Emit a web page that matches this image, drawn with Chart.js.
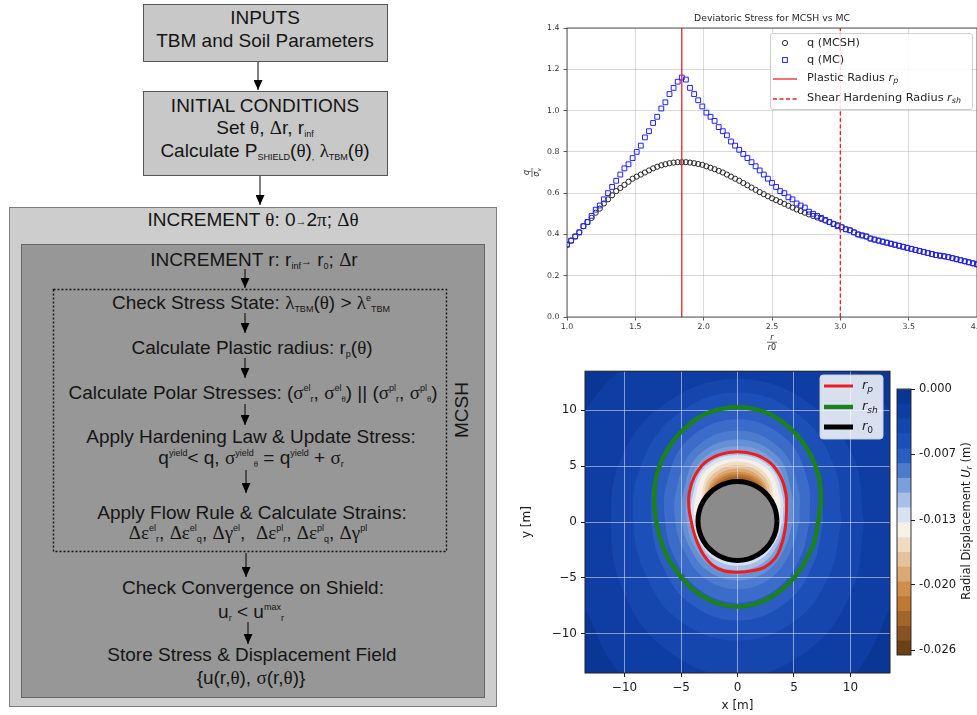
<!DOCTYPE html>
<html>
<head>
<meta charset="utf-8">
<title>MCSH flowchart and results</title>
<script src="https://cdn.jsdelivr.net/npm/chart.js@4.4.1/dist/chart.umd.min.js"></script>
<style>
  html, body { margin: 0; padding: 0; background: #fff; width: 977px; height: 715px; overflow: hidden; position: relative; }
  canvas { position: absolute; }
  .t { position: absolute; width: 500px; text-align: center; font-family: "Liberation Sans", Arial, sans-serif;
       font-size: 19px; line-height: 22px; color: #151515; white-space: nowrap; }
  .g { font-family: "Liberation Serif", "Times New Roman", serif; }
  .sb { font-size: 9px; position: relative; top: 3px; }
  .sp { font-size: 9px; position: relative; top: -8px; }
  .ar { font-size: 11px; position: relative; top: -1px; }
</style>
</head>
<body>

<!-- Flowchart -->
<svg width="520" height="715" style="position:absolute;left:0;top:0">
  <defs>
    <marker id="ah" markerWidth="10" markerHeight="9" refX="10" refY="4.5" orient="auto" markerUnits="userSpaceOnUse">
      <path d="M0,0 L10,4.5 L0,9 z" fill="#000"/>
    </marker>
  </defs>
  <rect x="143.5" y="4.5" width="244" height="57" fill="#c8c8c8" stroke="#555"/>
  <rect x="143.5" y="91.5" width="244" height="84" fill="#c8c8c8" stroke="#555"/>
  <rect x="9.5" y="207.5" width="487" height="499" fill="#cdcdcd" stroke="#7d7d7d"/>
  <rect x="21.5" y="244.5" width="463" height="453" fill="#979797" stroke="#666"/>
  <rect x="53.5" y="289.5" width="393" height="262" fill="none" stroke="#111" stroke-width="1.4" stroke-dasharray="2,2"/>
  <g stroke="#000" stroke-width="1" marker-end="url(#ah)">
    <line x1="258" y1="62" x2="258" y2="90"/>
    <line x1="260" y1="176" x2="260" y2="205"/>
    <line x1="245" y1="269" x2="245" y2="288"/>
    <line x1="245" y1="313" x2="245" y2="333"/>
    <line x1="245" y1="358" x2="245" y2="378"/>
    <line x1="245" y1="404" x2="245" y2="425"/>
    <line x1="246" y1="470" x2="246" y2="493"/>
    <line x1="246" y1="553" x2="246" y2="577"/>
    <line x1="248" y1="622" x2="248" y2="644"/>
  </g>
  <text x="0" y="0" transform="translate(468,410) rotate(-90)" text-anchor="middle"
        font-family="Liberation Sans, Arial, sans-serif" font-size="19" fill="#151515">MCSH</text>
</svg>

<div class="t" style="left:15px;top:7px">INPUTS</div>
<div class="t" style="left:15px;top:30px">TBM and Soil Parameters</div>
<div class="t" style="left:15px;top:95px">INITIAL CONDITIONS</div>
<div class="t" style="left:15px;top:117px">Set <span class="g">θ</span>, <span class="g">Δ</span>r, r<span class="sb">inf</span></div>
<div class="t" style="left:15px;top:140px">Calculate P<span class="sb">SHIELD</span>(<span class="g">θ</span>)<span class="sb">,</span> <span class="g">λ</span><span class="sb">TBM</span>(<span class="g">θ</span>)</div>
<div class="t" style="left:3px;top:209px">INCREMENT <span class="g">θ</span>: 0<span class="ar">→</span>2<span class="g">π</span>; <span class="g">Δθ</span></div>
<div class="t" style="left:4px;top:249px">INCREMENT r: r<span class="sb">inf</span><span class="ar">→</span> r<span class="sb">0</span>; <span class="g">Δ</span>r</div>
<div class="t" style="left:1px;top:292px">Check Stress State: <span class="g">λ</span><span class="sb">TBM</span>(<span class="g">θ</span>) &gt; <span class="g">λ</span><span class="sp">e</span><span class="sb">TBM</span></div>
<div class="t" style="left:2px;top:337px">Calculate Plastic radius: r<span class="sb">p</span>(<span class="g">θ</span>)</div>
<div class="t" style="left:3px;top:382px">Calculate Polar Stresses: (<span class="g">σ</span><span class="sp">el</span><span class="sb">r</span>, <span class="g">σ</span><span class="sp">el</span><span class="sb g">θ</span>) || (<span class="g">σ</span><span class="sp">pl</span><span class="sb">r</span>, <span class="g">σ</span><span class="sp">pl</span><span class="sb g">θ</span>)</div>
<div class="t" style="left:1px;top:426px">Apply Hardening Law &amp; Update Stress:</div>
<div class="t" style="left:1px;top:447px">q<span class="sp">yield</span>&lt; q, <span class="g">σ</span><span class="sp">yield</span><span class="sb g">θ</span> = q<span class="sp">yield</span> + <span class="g">σ</span><span class="sb">r</span></div>
<div class="t" style="left:2px;top:502px">Apply Flow Rule &amp; Calculate Strains:</div>
<div class="t" style="left:-2px;top:522px"><span class="g">Δε</span><span class="sp">el</span><span class="sb">r</span>, <span class="g">Δε</span><span class="sp">el</span><span class="sb">q</span>, <span class="g">Δγ</span><span class="sp">el</span>, &nbsp;<span class="g">Δε</span><span class="sp">pl</span><span class="sb">r</span>, <span class="g">Δε</span><span class="sp">pl</span><span class="sb">q</span>, <span class="g">Δγ</span><span class="sp">pl</span></div>
<div class="t" style="left:3px;top:577px">Check Convergence on Shield:</div>
<div class="t" style="left:1px;top:601px">u<span class="sb">r</span> &lt; u<span class="sp">max</span><span class="sb">r</span></div>
<div class="t" style="left:2px;top:644px">Store Stress &amp; Displacement Field</div>
<div class="t" style="left:1px;top:667px">{u(r,<span class="g">θ</span>), <span class="g">σ</span>(r,<span class="g">θ</span>)}</div>

<canvas id="stressChart" width="490" height="360" style="left:520px;top:0px"></canvas>
<canvas id="fieldChart" width="380" height="355" style="left:520px;top:360px"></canvas>
<canvas id="curveChart" width="380" height="355" style="left:520px;top:360px"></canvas>
<canvas id="cbarChart" width="97" height="355" style="left:880px;top:360px"></canvas>

<script>
// ---- Deviatoric stress data (r / r0 vs q / sigma_v) ----
const rRatio = [1.00, 1.03, 1.06, 1.09, 1.12, 1.15, 1.18, 1.21, 1.24, 1.27, 1.30, 1.33, 1.36, 1.39, 1.42,
  1.45, 1.48, 1.51, 1.54, 1.57, 1.60, 1.63, 1.66, 1.69, 1.72, 1.75, 1.78, 1.81, 1.84, 1.87, 1.90, 1.93,
  1.96, 1.99, 2.02, 2.05, 2.08, 2.11, 2.14, 2.17, 2.20, 2.23, 2.26, 2.29, 2.32, 2.35, 2.38, 2.41, 2.44,
  2.47, 2.50, 2.53, 2.56, 2.59, 2.62, 2.65, 2.68, 2.71, 2.74, 2.77, 2.80, 2.83, 2.86, 2.89, 2.92, 2.95,
  2.98, 3.01, 3.04, 3.07, 3.10, 3.13, 3.16, 3.19, 3.22, 3.25, 3.28, 3.31, 3.34, 3.37, 3.40, 3.43, 3.46,
  3.49, 3.52, 3.55, 3.58, 3.61, 3.64, 3.67, 3.70, 3.73, 3.76, 3.79, 3.82, 3.85, 3.88, 3.91, 3.94, 3.97, 4.00];

const qMCSH = [0.35, 0.37, 0.39, 0.41, 0.44, 0.46, 0.48, 0.505, 0.525, 0.55, 0.57, 0.59, 0.61, 0.625, 0.64,
  0.655, 0.67, 0.68, 0.69, 0.70, 0.71, 0.72, 0.728, 0.735, 0.74, 0.745, 0.748, 0.75, 0.75, 0.75, 0.748, 0.745,
  0.741, 0.737, 0.73, 0.723, 0.716, 0.708, 0.70, 0.69, 0.68, 0.67, 0.66, 0.649, 0.638, 0.627, 0.616, 0.605, 0.595,
  0.585, 0.575, 0.566, 0.557, 0.548, 0.539, 0.53, 0.521, 0.513, 0.505, 0.497, 0.49, 0.482, 0.475, 0.467, 0.46, 0.452,
  0.445, 0.435, 0.425, 0.42, 0.41, 0.40, 0.395, 0.39, 0.38, 0.375, 0.37, 0.365, 0.36, 0.355, 0.35, 0.345, 0.34,
  0.335, 0.33, 0.325, 0.32, 0.315, 0.31, 0.305, 0.30, 0.297, 0.294, 0.29, 0.285, 0.28, 0.275, 0.27, 0.265, 0.26, 0.255];

const qMC = [0.35, 0.37, 0.39, 0.41, 0.44, 0.46, 0.49, 0.52, 0.54, 0.57, 0.60, 0.63, 0.66, 0.69, 0.72,
  0.74, 0.77, 0.80, 0.83, 0.87, 0.90, 0.94, 0.97, 1.01, 1.04, 1.08, 1.11, 1.14, 1.16, 1.15, 1.11, 1.08,
  1.05, 1.02, 0.99, 0.97, 0.95, 0.92, 0.90, 0.88, 0.85, 0.83, 0.81, 0.79, 0.77, 0.75, 0.73, 0.71, 0.69,
  0.67, 0.65, 0.63, 0.61, 0.60, 0.58, 0.57, 0.55, 0.54, 0.53, 0.51, 0.50, 0.49, 0.48, 0.47, 0.46, 0.45,
  0.44, 0.435, 0.425, 0.42, 0.41, 0.40, 0.395, 0.39, 0.38, 0.375, 0.37, 0.365, 0.36, 0.355, 0.35, 0.345, 0.34,
  0.335, 0.33, 0.325, 0.32, 0.315, 0.31, 0.305, 0.30, 0.297, 0.294, 0.29, 0.285, 0.28, 0.275, 0.27, 0.265, 0.26, 0.255];

const plasticRadius = 1.84;
const shearHardeningRadius = 3.0;
const rTicks = [1.0, 1.5, 2.0, 2.5, 3.0, 3.5, 4.0];
const qTicks = [0.0, 0.2, 0.4, 0.6, 0.8, 1.0, 1.2, 1.4];

// ---- Radial displacement field around the tunnel (polar radii in m) ----
const bandAngles = [0, 30, 60, 90, 120, 150, 180, 210, 240, 270, 300, 330];
const fieldBackground = '#0a3796';
const band1 = [15.0, 16.5, 17.0, 16.0, 17.0, 16.5, 15.0, 15.5, 17.5, 18.0, 17.5, 15.5];
const band2 = [11.2, 11.8, 12.4, 12.8, 12.4, 11.8, 11.2, 11.8, 13.0, 13.8, 13.0, 11.8];
const band3 = [9.2, 9.9, 11.0, 11.6, 11.0, 9.9, 9.2, 9.4, 10.2, 10.6, 10.2, 9.4];
const band4 = [7.6, 8.4, 9.7, 10.3, 9.7, 8.4, 7.6, 7.7, 8.4, 8.8, 8.4, 7.7];
const band5 = [6.4, 7.2, 8.6, 9.2, 8.6, 7.2, 6.4, 6.4, 6.9, 7.2, 6.9, 6.4];
const band6 = [5.5, 6.2, 7.6, 8.2, 7.6, 6.2, 5.5, 5.4, 5.8, 6.0, 5.8, 5.4];
const band7 = [4.9, 5.5, 6.9, 7.4, 6.9, 5.5, 4.9, 4.8, 5.1, 5.2, 5.1, 4.8];
const band8 = [4.5, 5.1, 6.4, 6.8, 6.4, 5.1, 4.5, 4.4, 4.6, 4.7, 4.6, 4.4];
const band9 = [4.2, 4.8, 6.0, 6.4, 6.0, 4.8, 4.2, 4.1, 4.3, 4.3, 4.3, 4.1];
const band10 = [4.0, 4.6, 5.7, 6.0, 5.7, 4.6, 4.0, 3.8, 3.9, 3.9, 3.9, 3.8];
const band11 = [3.7, 4.3, 5.4, 5.7, 5.4, 4.3, 3.7, 3.3, 3.3, 3.3, 3.3, 3.3];
const band12 = [3.0, 3.7, 5.0, 5.4, 5.0, 3.7, 3.0, 3.0, 3.0, 3.0, 3.0, 3.0];
const band13 = [3.0, 3.5, 4.7, 5.1, 4.7, 3.5, 3.0, 3.0, 3.0, 3.0, 3.0, 3.0];
const band14 = [3.0, 3.3, 4.4, 4.8, 4.4, 3.3, 3.0, 3.0, 3.0, 3.0, 3.0, 3.0];
const band15 = [3.0, 3.2, 4.2, 4.5, 4.2, 3.2, 3.0, 3.0, 3.0, 3.0, 3.0, 3.0];
const band16 = [3.0, 3.0, 4.0, 4.3, 4.0, 3.0, 3.0, 3.0, 3.0, 3.0, 3.0, 3.0];
const band17 = [3.0, 3.0, 3.8, 4.1, 3.8, 3.0, 3.0, 3.0, 3.0, 3.0, 3.0, 3.0];
const bandColors = ['#0e3ea3', '#1546ae', '#1c4fb7', '#2a5cc2', '#3c6cc9', '#4d7ccf', '#6690d6', '#7b9edc',
  '#a8bfe8', '#d9e2f3', '#f7f0e6', '#f0dcc4', '#e6c29c', '#dba872', '#cf8f4c', '#be7834', '#a5652a'];

// boundaries: r0 (tunnel), rp (plastic), rsh (shear hardening)
const curveAngles = [0, 15, 30, 45, 60, 75, 90, 105, 120, 135, 150, 165, 180, 195, 210, 225, 240, 255, 270, 285, 300, 315, 330, 345];
const r0Radius = [3.5, 3.5, 3.5, 3.5, 3.5, 3.5, 3.5, 3.5, 3.5, 3.5, 3.5, 3.5, 3.5, 3.5, 3.5, 3.5, 3.5, 3.5, 3.5, 3.5, 3.5, 3.5, 3.5, 3.5];
const rpRadius = [4.3, 4.5, 4.95, 5.45, 5.9, 6.1, 6.15, 6.1, 5.9, 5.45, 4.95, 4.45, 4.1, 4.0, 4.05, 4.25, 4.5, 4.6, 4.55, 4.6, 4.75, 4.7, 4.45, 4.3];
const rshRadius = [7.15, 7.65, 8.25, 8.85, 9.45, 9.95, 10.1, 9.95, 9.45, 8.85, 8.25, 7.65, 7.2, 7.0, 6.98, 7.05, 7.3, 7.5, 7.6, 7.5, 7.3, 7.1, 6.98, 7.05];
const fieldTicks = [-10, -5, 0, 5, 10];

// ---- Colour bar ----
const cbarLevels = [0, -0.00149, -0.00298, -0.00447, -0.00596, -0.00744, -0.00893, -0.01042, -0.01191, -0.0134,
  -0.01489, -0.01638, -0.01787, -0.01936, -0.02084, -0.02233, -0.02382, -0.02531, -0.0268];
const cbarColors = ['#0a3796', '#0e3ea3', '#1546ae', '#1c4fb7', '#2a5cc2', '#4d7ccf', '#7b9edc', '#a8bfe8', '#d9e2f3',
  '#f7f0e6', '#f0dcc4', '#e6c29c', '#dba872', '#cf8f4c', '#be7834', '#a5652a', '#8a5220', '#6c4015'];
const cbarTicks = [0, -0.0066, -0.0132, -0.0197, -0.0263];

Chart.defaults.font.family = "'DejaVu Sans', sans-serif";
Chart.defaults.color = '#262626';

const toPoints = (xs, ys) => xs.map((x, i) => ({ x: x, y: ys[i] }));
const fixTicks = (values) => (scale) => { scale.ticks = values.map((v) => ({ value: v })); };

function polarLoop(angles, radii) {
  const pts = angles.map((a, i) => ({
    x: radii[i] * Math.cos(a * Math.PI / 180),
    y: radii[i] * Math.sin(a * Math.PI / 180),
  }));
  pts.push(pts[0]);
  return pts;
}

// text with italic / subscript pieces
function richWidth(ctx, parts, size) {
  let w = 0;
  parts.forEach((p) => {
    ctx.font = (p.it ? 'italic ' : '') + (p.sub ? size * 0.7 : size) + "px 'DejaVu Sans'";
    w += ctx.measureText(p.t).width;
  });
  return w;
}
function richText(ctx, parts, x, y, size, align) {
  let cx = align === 'center' ? x - richWidth(ctx, parts, size) / 2 : x;
  ctx.textAlign = 'left';
  ctx.textBaseline = 'middle';
  parts.forEach((p) => {
    ctx.font = (p.it ? 'italic ' : '') + (p.sub ? size * 0.7 : size) + "px 'DejaVu Sans'";
    ctx.fillText(p.t, cx, y + (p.sub ? size * 0.28 : 0));
    cx += ctx.measureText(p.t).width;
  });
}
function roundBox(ctx, x, y, w, h, r) {
  ctx.beginPath();
  ctx.moveTo(x + r, y);
  ctx.arcTo(x + w, y, x + w, y + h, r);
  ctx.arcTo(x + w, y + h, x, y + h, r);
  ctx.arcTo(x, y + h, x, y, r);
  ctx.arcTo(x, y, x + w, y, r);
  ctx.closePath();
}

// ---- Top right: deviatoric stress ----
const stressDecor = {
  id: 'stressDecor',
  afterDraw(chart) {
    const { ctx, chartArea: a } = chart;
    const ds = chart.data.datasets;
    ctx.save();
    ctx.strokeStyle = '#333';
    ctx.lineWidth = 0.8;
    ctx.strokeRect(a.left, a.top, a.right - a.left, a.bottom - a.top);

    ctx.fillStyle = '#262626';
    ctx.textAlign = 'center';
    ctx.textBaseline = 'middle';
    ctx.font = "9.3px 'DejaVu Sans'";
    const mx = (a.left + a.right) / 2;
    ctx.fillText('Deviatoric Stress for MCSH vs MC', mx, 19);

    // x title: r / r0
    richText(ctx, [{ t: 'r', it: true }], mx, 338, 8, 'center');
    ctx.fillRect(mx - 5, 341.8, 10, 0.7);
    richText(ctx, [{ t: 'r', it: true }, { t: '0' }], mx, 348, 8, 'center');

    // y title: q / sigma_v
    ctx.save();
    ctx.translate(12, (a.top + a.bottom) / 2);
    ctx.rotate(-Math.PI / 2);
    richText(ctx, [{ t: 'q', it: true }], 0, -5, 8, 'center');
    ctx.fillRect(-4.5, -0.35, 9, 0.7);
    richText(ctx, [{ t: 'σ', it: true }, { t: 'v', it: true, sub: true }], 0, 5, 8, 'center');
    ctx.restore();

    // legend
    roundBox(ctx, 250.5, 33.5, 202, 76, 2.5);
    ctx.fillStyle = 'rgba(255,255,255,0.85)';
    ctx.fill();
    ctx.strokeStyle = '#cfcfcf';
    ctx.lineWidth = 1;
    ctx.stroke();

    ctx.lineWidth = ds[0].pointBorderWidth;
    ctx.strokeStyle = ds[0].pointBorderColor;
    ctx.beginPath();
    ctx.arc(265, 43, ds[0].pointRadius, 0, Math.PI * 2);
    ctx.stroke();

    const half = ds[1].pointRadius * Math.SQRT1_2;
    ctx.lineWidth = ds[1].pointBorderWidth;
    ctx.strokeStyle = ds[1].pointBorderColor;
    ctx.strokeRect(265 - half, 60 - half, half * 2, half * 2);

    [[2, 79], [3, 99]].forEach(([i, y]) => {
      ctx.strokeStyle = ds[i].borderColor;
      ctx.lineWidth = ds[i].borderWidth;
      ctx.setLineDash(ds[i].borderDash || []);
      ctx.beginPath();
      ctx.moveTo(253, y);
      ctx.lineTo(277, y);
      ctx.stroke();
    });
    ctx.setLineDash([]);

    ctx.fillStyle = '#262626';
    richText(ctx, [{ t: 'q (MCSH)' }], 287, 43, 11.3, 'left');
    richText(ctx, [{ t: 'q (MC)' }], 287, 60, 11.3, 'left');
    richText(ctx, [{ t: 'Plastic Radius ' }, { t: 'r', it: true }, { t: 'p', it: true, sub: true }], 287, 78, 11.3, 'left');
    richText(ctx, [{ t: 'Shear Hardening Radius ' }, { t: 'r', it: true }, { t: 'sh', it: true, sub: true }], 287, 98, 11.3, 'left');
    ctx.restore();
  },
};

const stressGrid = { color: 'rgba(170,170,170,0.55)', lineWidth: 0.8, tickLength: 3.5, tickColor: '#333' };
const stressTicks = { font: { size: 7.8 }, color: '#333', callback: (v) => v.toFixed(1) };

new Chart(document.getElementById('stressChart'), {
  type: 'line',
  data: {
    datasets: [
      { label: 'q (MCSH)', data: toPoints(rRatio, qMCSH), showLine: false, pointStyle: 'circle', pointRadius: 2.6,
        pointBorderColor: '#262626', pointBackgroundColor: 'rgba(0,0,0,0)', pointBorderWidth: 1, order: 3 },
      { label: 'q (MC)', data: toPoints(rRatio, qMC), showLine: false, pointStyle: 'rect', pointRadius: 3.4,
        pointBorderColor: '#2222ff', pointBackgroundColor: 'rgba(0,0,0,0)', pointBorderWidth: 1, order: 2 },
      { label: 'Plastic Radius', data: [{ x: plasticRadius, y: qTicks[0] }, { x: plasticRadius, y: qTicks[7] }],
        borderColor: '#ee2222', borderWidth: 1.3, pointRadius: 0, order: 1 },
      { label: 'Shear Hardening Radius', data: [{ x: shearHardeningRadius, y: qTicks[0] }, { x: shearHardeningRadius, y: qTicks[7] }],
        borderColor: '#ee2222', borderWidth: 1.3, borderDash: [4, 2.5], pointRadius: 0, order: 1 },
    ],
  },
  options: {
    responsive: false,
    animation: false,
    devicePixelRatio: 1,
    layout: { padding: { top: 28, right: 33, left: 0, bottom: 0 } },
    plugins: { legend: { display: false }, tooltip: { enabled: false } },
    scales: {
      x: {
        type: 'linear', min: 1, max: 4,
        afterBuildTicks: fixTicks(rTicks),
        afterFit: (s) => { s.height = 43; },
        ticks: { ...stressTicks, padding: 2 },
        grid: stressGrid,
        border: { display: false },
      },
      y: {
        type: 'linear', min: 0, max: 1.4,
        afterBuildTicks: fixTicks(qTicks),
        afterFit: (s) => { s.width = 47; },
        ticks: { ...stressTicks, padding: 4 },
        grid: stressGrid,
        border: { display: false },
      },
    },
  },
  plugins: [stressDecor],
});

// ---- Bottom right: displacement field ----
const bandRadii = [band1, band2, band3, band4, band5, band6, band7, band8, band9, band10, band11,
  band12, band13, band14, band15, band16, band17];

const fieldDecor = {
  id: 'fieldDecor',
  beforeDraw(chart) {
    const { ctx, chartArea: a } = chart;
    ctx.save();
    ctx.fillStyle = fieldBackground;
    ctx.fillRect(a.left, a.top, a.right - a.left, a.bottom - a.top);
    ctx.restore();
  },
  afterDraw(chart) {
    const { ctx, chartArea: a } = chart;
    ctx.save();
    ctx.strokeStyle = '#222';
    ctx.lineWidth = 1;
    ctx.strokeRect(a.left, a.top, a.right - a.left, a.bottom - a.top);
    ctx.restore();
  },
};

const minusSign = (v) => String(v).replace('-', '\u2212');
const fieldAxis = (title, fit) => ({
  type: 'linear', min: -13.5, max: 13.5,
  afterBuildTicks: fixTicks(fieldTicks),
  afterFit: fit,
  ticks: { font: { size: 12 }, color: '#1a1a1a', padding: 4, callback: minusSign },
  grid: { color: 'rgba(230,234,246,0.55)', lineWidth: 1, z: 1, tickLength: 4, tickColor: '#222' },
  border: { display: false },
  title: { display: true, text: title, font: { size: 12 }, color: '#1a1a1a', padding: { top: 0, bottom: 2 } },
});

new Chart(document.getElementById('fieldChart'), {
  type: 'line',
  data: {
    datasets: bandRadii.map((radii, i) => ({
      data: polarLoop(bandAngles, radii),
      backgroundColor: bandColors[i],
      borderWidth: 0,
      pointRadius: 0,
      fill: 'shape',
      tension: 0.4,
      order: 100 - i,
    })),
  },
  options: {
    responsive: false,
    animation: false,
    devicePixelRatio: 1,
    layout: { padding: { top: 9, right: 10, left: 0, bottom: 0 } },
    plugins: { legend: { display: false }, tooltip: { enabled: false } },
    scales: {
      x: fieldAxis('x [m]', (s) => { s.height = 42; }),
      y: fieldAxis('y [m]', (s) => { s.width = 65; }),
    },
  },
  plugins: [fieldDecor],
});

const curveLegend = {
  id: 'curveLegend',
  afterDraw(chart) {
    const { ctx } = chart;
    const ds = chart.data.datasets;
    ctx.save();
    roundBox(ctx, 300, 15, 63, 64, 3);
    ctx.fillStyle = 'rgba(255,255,255,0.84)';
    ctx.fill();
    ctx.strokeStyle = 'rgba(210,210,210,0.9)';
    ctx.lineWidth = 1;
    ctx.stroke();
    const rows = [[1, 26, 'p', true], [2, 47, 'sh', true], [0, 67, '0', false]];
    rows.forEach(([i, y, sub, it]) => {
      ctx.strokeStyle = ds[i].borderColor;
      ctx.lineWidth = ds[i].borderWidth;
      ctx.beginPath();
      ctx.moveTo(304, y);
      ctx.lineTo(333, y);
      ctx.stroke();
      ctx.fillStyle = '#222';
      richText(ctx, [{ t: 'r', it: true }, { t: sub, it: it, sub: true }], 342, y, 13, 'left');
    });
    ctx.restore();
  },
};

new Chart(document.getElementById('curveChart'), {
  type: 'line',
  data: {
    datasets: [
      { label: 'r0', data: polarLoop(curveAngles, r0Radius), fill: 'shape', backgroundColor: '#8b8b8b',
        borderColor: '#000', borderWidth: 5, pointRadius: 0, tension: 0.4 },
      { label: 'rp', data: polarLoop(curveAngles, rpRadius), fill: false, borderColor: '#ee1c1c',
        borderWidth: 3, pointRadius: 0, tension: 0.4 },
      { label: 'rsh', data: polarLoop(curveAngles, rshRadius), fill: false, borderColor: '#1c801c',
        borderWidth: 4.5, pointRadius: 0, tension: 0.4 },
    ],
  },
  options: {
    responsive: false,
    animation: false,
    devicePixelRatio: 1,
    layout: { padding: { top: 9, right: 10, left: 65, bottom: 42 } },
    plugins: { legend: { display: false }, tooltip: { enabled: false } },
    scales: {
      x: { type: 'linear', min: -13.5, max: 13.5, display: false },
      y: { type: 'linear', min: -13.5, max: 13.5, display: false },
    },
  },
  plugins: [curveLegend],
});

// ---- Colour bar ----
const cbarDecor = {
  id: 'cbarDecor',
  afterDraw(chart) {
    const { ctx, chartArea: a } = chart;
    ctx.save();
    ctx.strokeStyle = '#222';
    ctx.lineWidth = 0.9;
    ctx.strokeRect(a.left, a.top, a.right - a.left, a.bottom - a.top);
    ctx.translate(87, 161);
    ctx.rotate(-Math.PI / 2);
    ctx.fillStyle = '#1a1a1a';
    richText(ctx, [{ t: 'Radial Displacement ' }, { t: 'U', it: true }, { t: 'r', it: true, sub: true }, { t: ' (m)' }], 0, 0, 11.5, 'center');
    ctx.restore();
  },
};

new Chart(document.getElementById('cbarChart'), {
  type: 'bar',
  data: {
    labels: ['Ur'],
    datasets: cbarColors.map((c, i) => ({
      data: [cbarLevels[i + 1] - cbarLevels[i]],
      backgroundColor: c,
      borderWidth: 0,
      barPercentage: 1,
      categoryPercentage: 1,
      stack: 'cb',
    })),
  },
  options: {
    responsive: false,
    animation: false,
    devicePixelRatio: 1,
    layout: { padding: { top: 29, right: 0, left: 17, bottom: 60 } },
    plugins: { legend: { display: false }, tooltip: { enabled: false } },
    scales: {
      x: { display: false, stacked: true },
      y: {
        position: 'right', stacked: true, min: cbarLevels[cbarLevels.length - 1], max: 0,
        afterBuildTicks: fixTicks(cbarTicks),
        afterFit: (s) => { s.width = 66; },
        ticks: { font: { size: 11.5 }, color: '#1a1a1a', padding: 4, callback: (v) => v.toFixed(3) },
        grid: { drawOnChartArea: false, tickLength: 4, tickColor: '#222' },
        border: { display: false },
      },
    },
  },
  plugins: [cbarDecor],
});
</script>
</body>
</html>
